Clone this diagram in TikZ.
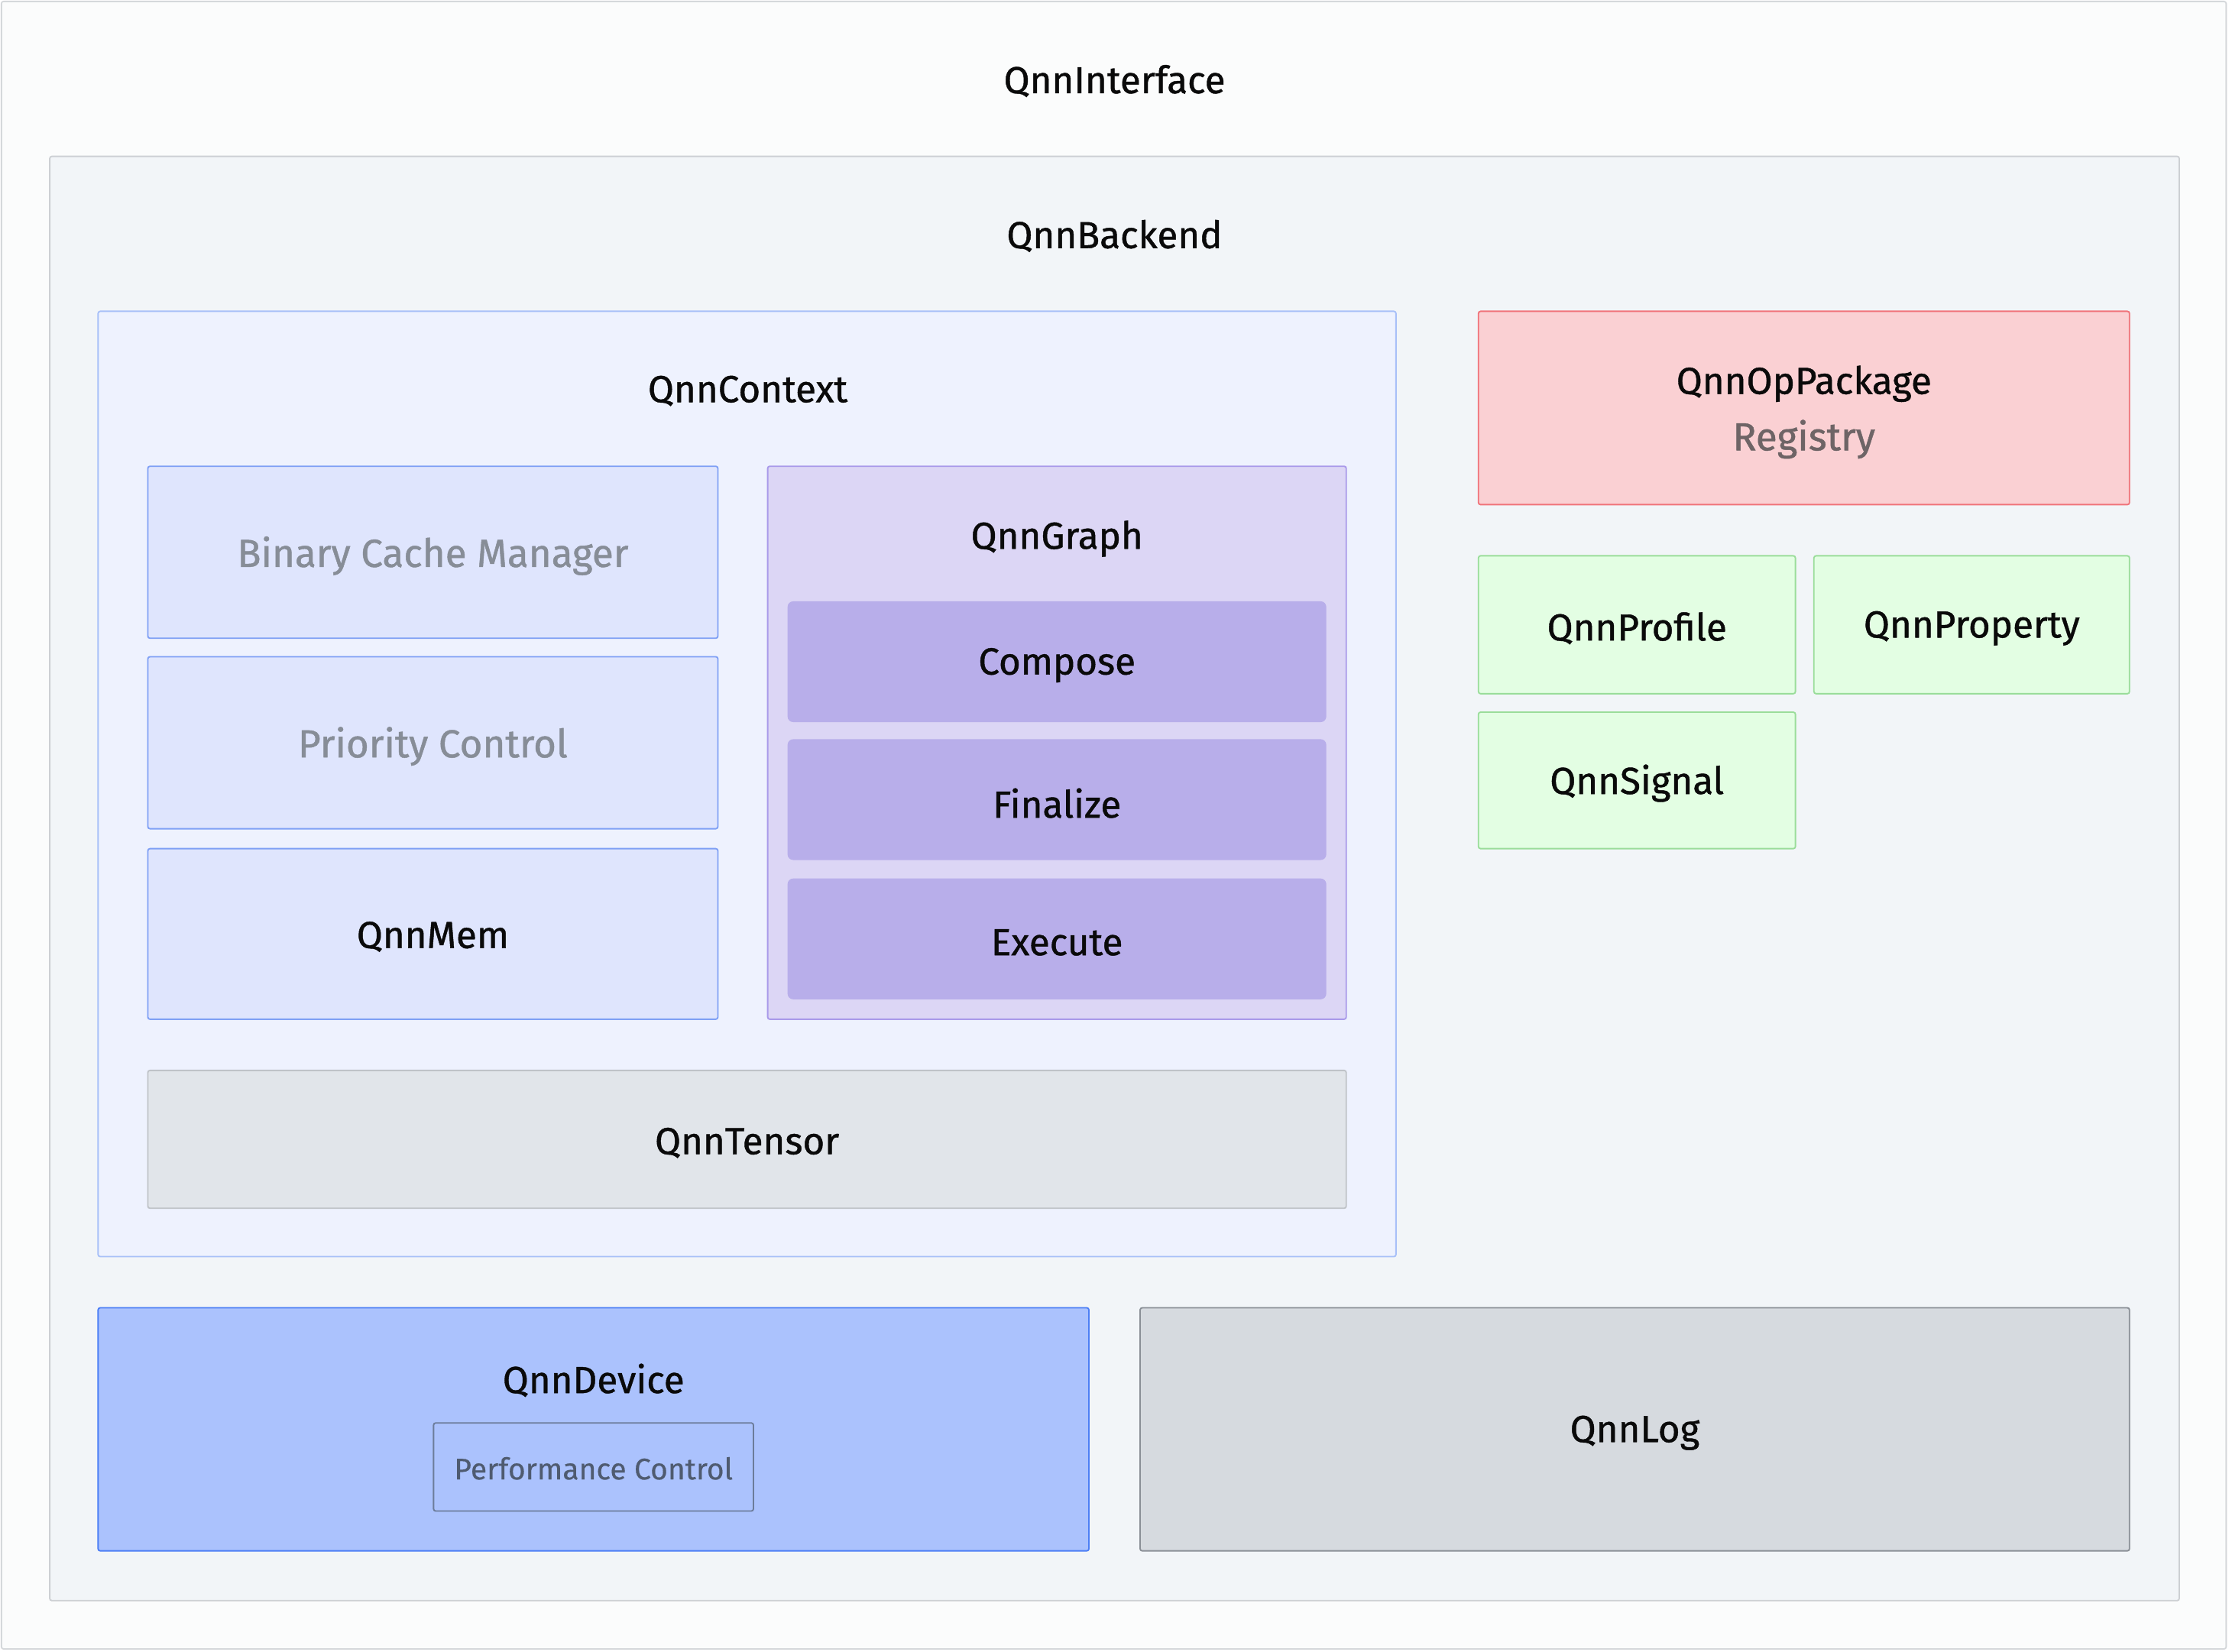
\documentclass[tikz,border=0pt]{standalone}
\usepackage{fontspec}
\setmainfont{Fira Sans}
\newfontfamily\medfont{Fira Sans}[FakeBold=0.9]
\newfontfamily\lightfont{Fira Sans}[FakeBold=0.4]
\definecolor{frameBd}{HTML}{D5D8DB}
\definecolor{frameBg}{HTML}{FBFCFC}
\definecolor{backBg}{HTML}{F2F5F8}
\definecolor{backBd}{HTML}{CDD0D4}
\definecolor{ctxBg}{HTML}{EEF2FE}
\definecolor{ctxBd}{HTML}{A8C0F8}
\definecolor{subBg}{HTML}{DFE5FD}
\definecolor{subBd}{HTML}{7FA0F5}
\definecolor{grayTxt}{HTML}{878D97}
\definecolor{graphBg}{HTML}{DCD6F5}
\definecolor{graphBd}{HTML}{A99AEA}
\definecolor{stepBg}{HTML}{B8AEEA}
\definecolor{tensBg}{HTML}{E1E5EA}
\definecolor{tensBd}{HTML}{BFC3C8}
\definecolor{opBg}{HTML}{FAD0D3}
\definecolor{opBd}{HTML}{F0737A}
\definecolor{regTxt}{HTML}{6E6466}
\definecolor{grnBg}{HTML}{E3FEE3}
\definecolor{grnBd}{HTML}{9ADD9A}
\definecolor{devBg}{HTML}{ABC2FD}
\definecolor{devBd}{HTML}{4C7EF5}
\definecolor{perfBd}{HTML}{6C7C9A}
\definecolor{perfTxt}{HTML}{4F5B70}
\definecolor{logBg}{HTML}{D6DADF}
\definecolor{logBd}{HTML}{8A8F96}
\definecolor{ink}{HTML}{0A0A0A}
\tikzset{
  box/.style={rounded corners=1.5pt, line width=1pt},
  title/.style={font=\medfont\fontsize{26.5}{30}\selectfont, text=ink, inner sep=0pt, yshift=-2pt},
  subtxt/.style={font=\medfont\fontsize{27.5}{30}\selectfont, text=grayTxt, inner sep=0pt, yshift=-2pt},
}
\begin{document}
\begin{tikzpicture}[x=1pt,y=-1pt]
\useasboundingbox (0,0) rectangle (1568,1162);
% outer frame
\draw[box, draw=frameBd, fill=frameBg] (1,1) rectangle (1566,1160);
\node[title] (iface) at (784,55) {QnnInterface};
% backend
\draw[box, draw=backBd, fill=backBg] (35,110) rectangle (1533,1126);
\node[title] (backend) at (784,164) {QnnBackend};
% context
\draw[box, draw=ctxBd, fill=ctxBg] (69,219) rectangle (982,884);
\node[title] (ctx) at (526,273) {QnnContext};
\draw[box, draw=subBd, fill=subBg] (104,328) rectangle (505,449);
\node[subtxt] (bcm) at (304.5,389) {Binary Cache Manager};
\draw[box, draw=subBd, fill=subBg] (104,462) rectangle (505,583);
\node[subtxt] (prio) at (304.5,523) {Priority Control};
\draw[box, draw=subBd, fill=subBg] (104,597) rectangle (505,717);
\node[title] (mem) at (304.5,657) {QnnMem};
% graph
\draw[box, draw=graphBd, fill=graphBg] (540,328) rectangle (947,717);
\node[title] (graph) at (743.5,377) {QnnGraph};
\fill[rounded corners=4pt, stepBg] (554,423) rectangle (933,508);
\node[title] (compose) at (743.5,466) {Compose};
\fill[rounded corners=4pt, stepBg] (554,520) rectangle (933,605);
\node[title] (finalize) at (743.5,563) {Finalize};
\fill[rounded corners=4pt, stepBg] (554,618) rectangle (933,703);
\node[title] (execute) at (743.5,661) {Execute};
% tensor
\draw[box, draw=tensBd, fill=tensBg] (104,753) rectangle (947,850);
\node[title] (tensor) at (525.5,802) {QnnTensor};
% op package
\draw[box, draw=opBd, fill=opBg] (1040,219) rectangle (1498,355);
\node[title] (oppkg) at (1269,268) {QnnOpPackage};
\node[subtxt, text=regTxt] (reg) at (1269,307) {Registry};
% green boxes
\draw[box, draw=grnBd, fill=grnBg] (1040,391) rectangle (1263,488);
\node[title] (prof) at (1151.5,440) {QnnProfile};
\draw[box, draw=grnBd, fill=grnBg] (1276,391) rectangle (1498,488);
\node[title] (prop) at (1387,440) {QnnProperty};
\draw[box, draw=grnBd, fill=grnBg] (1040,501) rectangle (1263,597);
\node[title] (sig) at (1151.5,549) {QnnSignal};
% device
\draw[box, draw=devBd, fill=devBg] (69,920) rectangle (766,1091);
\node[title] (dev) at (417.5,969) {QnnDevice};
\draw[box, draw=perfBd, fill=devBg] (305,1001) rectangle (530,1063);
\node[font=\lightfont\fontsize{21}{25}\selectfont, text=perfTxt, inner sep=0pt, yshift=-1pt] (perf) at (417.5,1032) {Performance Control};
% log
\draw[box, draw=logBd, fill=logBg] (802,920) rectangle (1498,1091);
\node[title] (log) at (1150,1006) {QnnLog};
\end{tikzpicture}
\end{document}
